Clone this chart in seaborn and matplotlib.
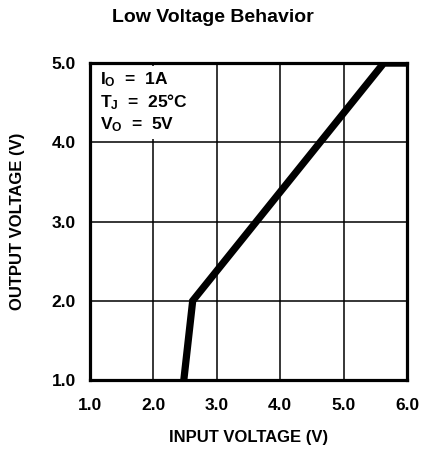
import matplotlib
matplotlib.use("Agg")
import matplotlib.pyplot as plt
import pandas as pd
import seaborn as sns

# curve
input_voltage = [2.48, 2.62, 5.63, 6.0]
output_voltage = [1.0, 2.0, 5.0, 5.0]

x_ticks = [1.0, 2.0, 3.0, 4.0, 5.0, 6.0]
y_ticks = [1.0, 2.0, 3.0, 4.0, 5.0]

conditions = [r"I$_{O}$  =  1A", r"T$_{J}$  =  25°C", r"V$_{O}$  =  5V"]

FONT = "Liberation Sans"


def main():
    sns.set_theme(style="white")
    plt.rcParams["font.family"] = [FONT, "DejaVu Sans"]
    plt.rcParams["font.weight"] = "bold"
    plt.rcParams["text.color"] = "black"
    plt.rcParams["mathtext.fontset"] = "custom"
    plt.rcParams["mathtext.rm"] = FONT + ":bold"
    plt.rcParams["mathtext.it"] = FONT + ":bold"
    plt.rcParams["mathtext.default"] = "rm"

    df = pd.DataFrame({"vin": input_voltage, "vout": output_voltage})

    fig = plt.figure(figsize=(4.22, 4.54), dpi=100)
    ax = fig.add_axes([0.213, 0.163, 0.752, 0.698])

    sns.lineplot(data=df, x="vin", y="vout", color="black", linewidth=5.2,
                 sort=False, ax=ax, zorder=5, solid_joinstyle="miter")

    ax.set_xlim(1.0, 6.0)
    ax.set_ylim(1.0, 5.0)
    ax.set_xticks(x_ticks)
    ax.set_yticks(y_ticks)
    ax.set_xticklabels([f"{t:.1f}" for t in x_ticks])
    ax.set_yticklabels([f"{t:.1f}" for t in y_ticks])
    ax.tick_params(length=0, labelsize=12.5, colors="black")
    ax.tick_params(axis="y", pad=10)
    ax.tick_params(axis="x", pad=13)
    for lab in ax.get_xticklabels() + ax.get_yticklabels():
        lab.set_fontweight("bold")

    ax.grid(True, color="black", linewidth=1.1)
    ax.set_axisbelow(True)
    for sp in ax.spines.values():
        sp.set_visible(True)
        sp.set_color("black")
        sp.set_linewidth(2.3)

    ax.set_xlabel("INPUT VOLTAGE (V)", fontsize=12, fontweight="bold",
                  color="black")
    ax.set_ylabel("OUTPUT VOLTAGE (V)", fontsize=12, fontweight="bold",
                  color="black")
    ax.xaxis.set_label_coords(0.5, -0.158)
    ax.yaxis.set_label_coords(-0.205, 0.5)

    ax.text(0.032, 0.978, "\n".join(conditions), transform=ax.transAxes,
            ha="left", va="top", fontsize=12.5, fontweight="bold",
            linespacing=1.25, zorder=2.2,
            bbox=dict(facecolor="white", edgecolor="none", pad=3))

    fig.text(0.505, 0.961, "Low Voltage Behavior", ha="center", va="center",
             fontsize=14, fontweight="bold", color="black")

    fig.savefig("out.png", dpi=100)


if __name__ == "__main__":
    main()
